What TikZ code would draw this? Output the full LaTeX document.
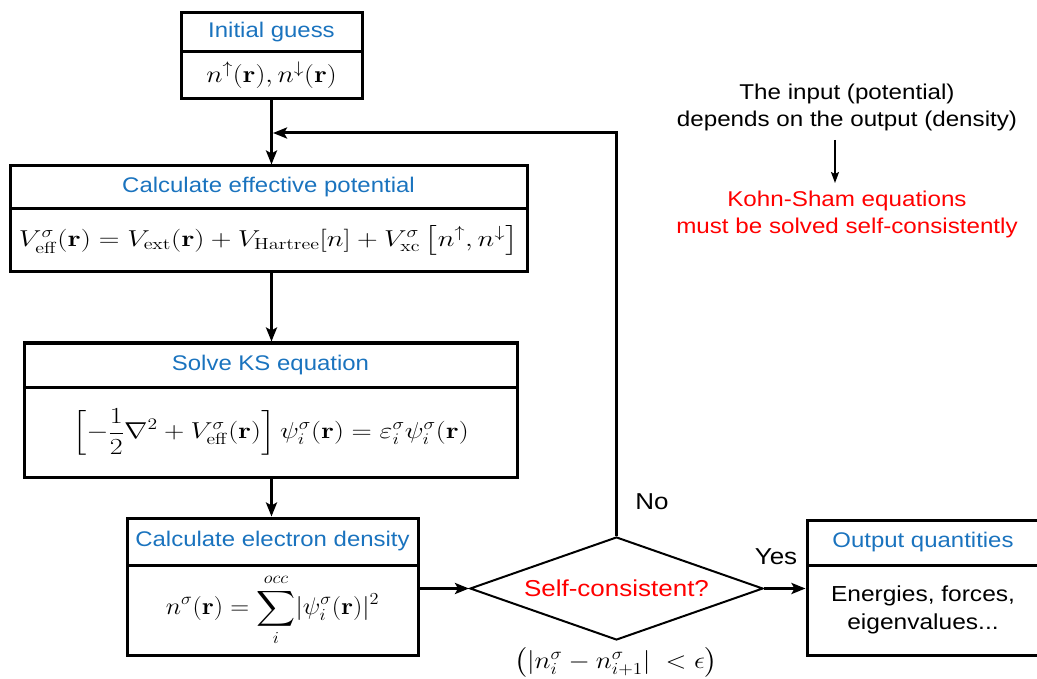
\RequirePackage{fix-cm}
\documentclass[tikz,border=0pt]{standalone}
\usepackage{amsmath}
\usepackage{graphicx}
\usepackage[no-math]{fontspec}
\setmainfont{Liberation Sans}
\usetikzlibrary{shapes.geometric,arrows.meta}
\definecolor{titleblue}{RGB}{26,115,190}
\definecolor{kred}{RGB}{255,0,0}
\newcommand{\sx}[1]{\scalebox{1.13}[1]{#1}}
\newcommand{\sxl}[1]{\scalebox{1.13}[1]{\begin{tabular}{@{}c@{}}#1\end{tabular}}}
\newcommand{\fs}[1]{\fontsize{#1}{27}\selectfont}
\tikzset{
  part/.style={draw, line width=3pt, inner sep=0pt, anchor=center},
  ttl/.style={part, text=titleblue, font=\fs{21.2}},
  flow/.style={line width=3pt, -{Stealth[length=14pt,width=11pt,inset=3pt]}},
  thin arrow/.style={line width=1.6pt, -{Stealth[length=11pt,width=8pt,inset=2pt]}},
  txt/.style={inner sep=0pt, align=center},
}
\begin{document}
\begin{tikzpicture}[x=1pt, y=-1pt, font=\fs{21.4}]
\useasboundingbox (0,0) rectangle (1037,679);
% Initial guess
\node[ttl, minimum width=181pt, minimum height=39pt] (igt) at (271.5,32.5) {\sx{Initial guess}};
\node[part, minimum width=181pt, minimum height=47pt, font=\fs{24}] (igb) at (271.5,75.5) {\scalebox{1.16}[1]{$n^{\uparrow}(\mathbf{r}), n^{\downarrow}(\mathbf{r})$}};
% Effective potential
\node[ttl, minimum width=517pt, minimum height=43pt] (ept) at (268.5,187.5) {\sx{Calculate effective potential}};
\node[part, minimum width=517pt, minimum height=63pt, font=\fs{23}] (epb) at (268.5,240.5) {\scalebox{1.245}[1]{$V^{\sigma}_{\mathrm{eff}}(\mathbf{r}) = V_{\mathrm{ext}}(\mathbf{r}) + V_{\mathrm{Hartree}}[n] + V^{\sigma}_{\mathrm{xc}}\left[n^{\uparrow}, n^{\downarrow}\right]$}};
% Solve KS
\node[ttl, minimum width=493pt, minimum height=44pt] (kst) at (270.5,365) {\sx{Solve KS equation}};
\node[part, minimum width=493pt, minimum height=90pt, font=\fs{23}] (ksb) at (270.5,432) {\scalebox{1.22}[1]{$\displaystyle \left[-\frac{1}{2}\nabla^2 + V^{\sigma}_{\mathrm{eff}}(\mathbf{r})\right]\psi^{\sigma}_i(\mathbf{r}) = \varepsilon^{\sigma}_i\psi^{\sigma}_i(\mathbf{r})$}};
% Electron density
\node[ttl, minimum width=291pt, minimum height=47pt] (edt) at (272.5,541.5) {\sx{Calculate electron density}};
\node[part, minimum width=291pt, minimum height=90pt, font=\fs{24}] (edb) at (272.5,610) {\scalebox{1.09}[1]{$\displaystyle n^{\sigma}(\mathbf{r}) = \sum_{i}^{occ}\lvert\psi^{\sigma}_i(\mathbf{r})\rvert^2$}};
% Decision
\node[draw, diamond, line width=2pt, aspect=2.84, minimum width=293pt, minimum height=103pt, inner sep=0pt, text=kred, font=\fs{23}] (sc) at (616.5,588.5) {\sx{Self-consistent?}};
\node[txt, font=\fs{24}] (crit) at (616,662) {\scalebox{1.14}[1]{$\big(|n^{\sigma}_i - n^{\sigma}_{i+1}|\ < \epsilon\big)$}};
% Output
\node[ttl, minimum width=232pt, minimum height=45pt] (out) at (923,542.5) {\sx{Output quantities}};
\node[part, minimum width=232pt, minimum height=90pt, font=\fontsize{21.7}{28}\selectfont] (outb) at (923,610) {\sxl{Energies, forces,\\eigenvalues...}};
% Labels
\node[txt, font=\fs{23}] (no) at (652,502) {\sx{No}};
\node[txt, font=\fs{23}] (yes) at (776,557) {\sx{Yes}};
% Note
\node[txt] (note) at (847,108) {\sxl{The input (potential)\\depends on the output (density)}};
\node[txt, text=kred] (ks) at (847,215) {\sxl{Kohn-Sham equations\\must be solved self-consistently}};
\coordinate (na) at (835,140);
\coordinate (nb) at (835,183);
\draw[thin arrow] (na) -- (nb);
% Connectors
\coordinate (corner) at (616.5,133);
\coordinate (join) at (273,133);
\draw[flow] (igb.south) -- (igb.south |- ept.north);
\draw[flow] (igb.south |- epb.south) -- (igb.south |- kst.north);
\draw[flow] (igb.south |- ksb.south) -- (igb.south |- edt.north);
\draw[flow] (edb.east |- sc.west) -- (sc.west);
\draw[flow] (sc.east) -- (outb.west |- sc.east);
\draw[flow] (sc.north) -- (corner) -- (join);
\end{tikzpicture}
\end{document}
